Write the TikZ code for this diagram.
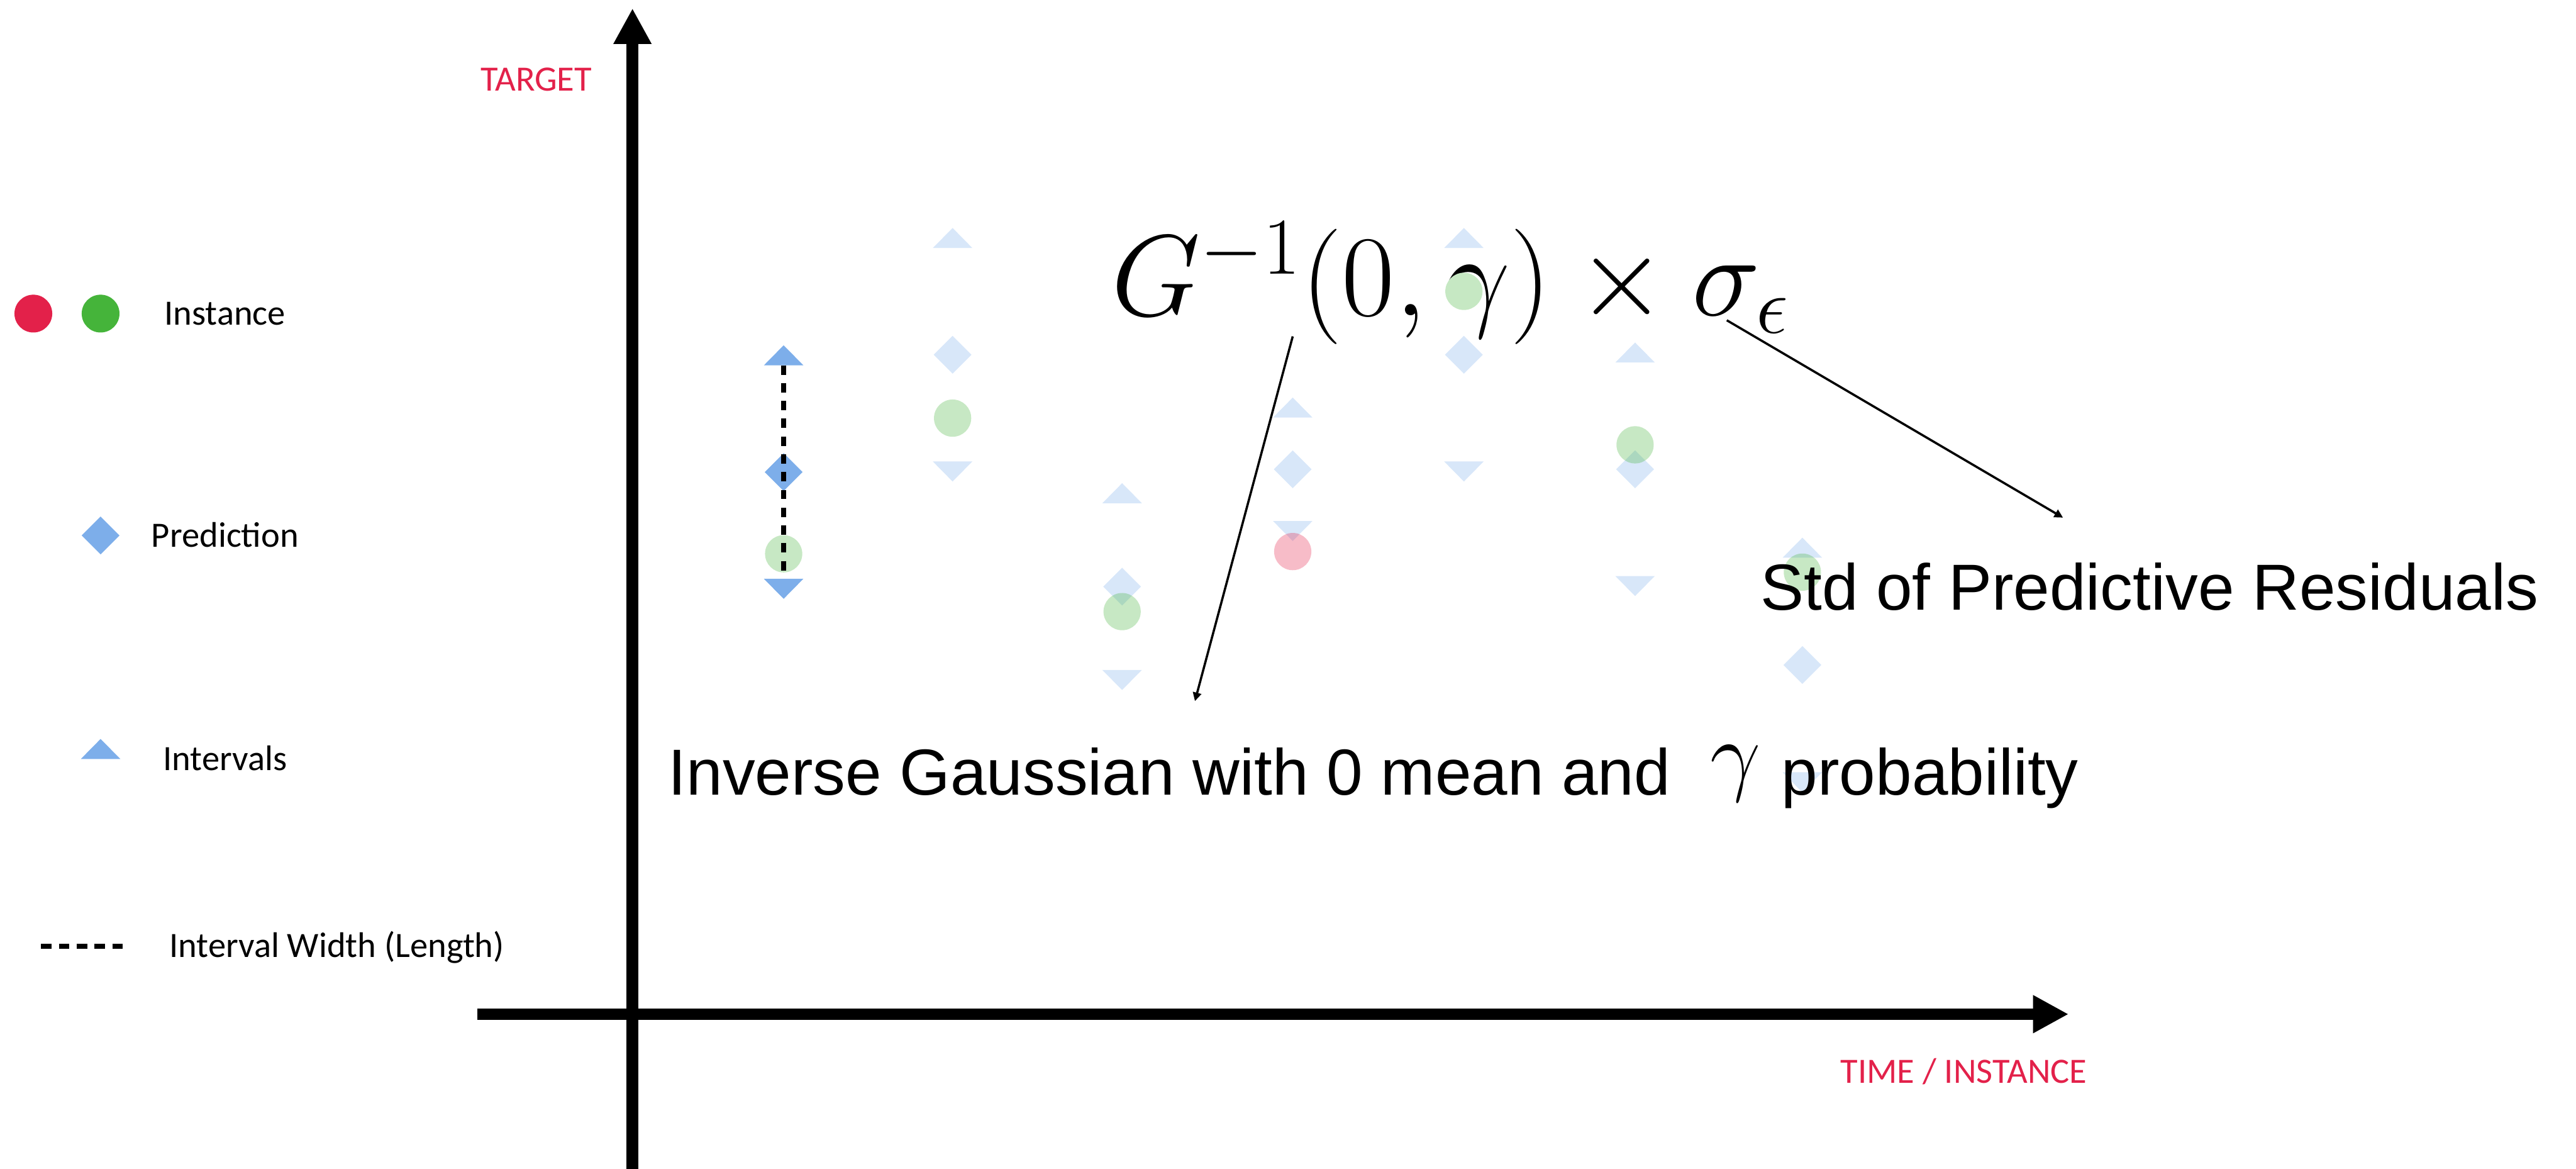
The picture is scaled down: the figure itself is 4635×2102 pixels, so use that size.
\documentclass[tikz,border=0pt]{standalone}
\usepackage{fix-cm}
\usepackage{fontspec}
\newfontfamily\keyfont{Carlito}
\newfontfamily\bigfont{Liberation Sans}
\usepackage{tikz}
\usetikzlibrary{arrows.meta}
\definecolor{InstRed}{HTML}{E3214A}
\definecolor{InstGreen}{HTML}{45B43A}
\definecolor{PredBlue}{HTML}{7DAEEA}
% markers: style, x, y
\newcommand{\triup}[3]{\fill[#1] (#2-35.5,#3) -- (#2,#3-36) -- (#2+35.5,#3) -- cycle;}
\newcommand{\tridown}[3]{\fill[#1] (#2-35.5,#3) -- (#2,#3+36) -- (#2+35.5,#3) -- cycle;}
\newcommand{\diam}[3]{\fill[#1] (#2-34,#3) -- (#2,#3-34) -- (#2+34,#3) -- (#2,#3+34) -- cycle;}
\newcommand{\instpt}[3]{\fill[#1] (#2,#3) circle[radius=33.5];}
\tikzset{
  axisline/.style={line width=5.98pt,-{Triangle[length=18.2pt,width=18.2pt]}},
  pointer/.style={line width=1.14pt,-{Triangle[length=4.4pt,width=4.3pt]}},
  widthline/.style={line width=2.3pt,dash pattern=on 4.8pt off 4.3pt},
  keytext/.style={font=\keyfont\fontsize{18.2}{22}\selectfont,anchor=base west,inner sep=0pt},
  bigtext/.style={font=\bigfont\fontsize{33.3}{40}\selectfont,anchor=base west,inner sep=0pt},
  soft/.style={fill=#1,fill opacity=0.3}
}

\begin{document}
\begin{tikzpicture}[x=0.01cm,y=-0.01cm]
  \useasboundingbox (0,0) rectangle (4635,2102);

  % axes
  \coordinate (yfoot) at (1138,2102);
  \coordinate (ytip) at (1138,15);
  \coordinate (xfoot) at (859,1824);
  \coordinate (xtip) at (3722,1824);
  \draw[axisline] (yfoot) -- (ytip);
  \draw[axisline] (xfoot) -- (xtip);
  \node[keytext,text=InstRed] (target) at (864,163) {TARGET};
  \node[keytext,text=InstRed] (timeinst) at (3311,1948) {TIME / INSTANCE};

  % legend
  \fill[InstRed] (60,564) circle[radius=34];
  \fill[InstGreen] (181,564) circle[radius=34];
  \diam{PredBlue}{181}{963}
  \triup{PredBlue}{181}{1365}
  \draw[widthline,line width=2.6pt,dash pattern=on 5.4pt off 3.7pt] (74,1702) -- (221,1702);
  \node[keytext] (kinst) at (295,584) {Instance};
  \node[keytext] (kpred) at (272,984) {Prediction};
  \node[keytext] (kint) at (293,1386) {Intervals};
  \node[keytext] (kwidth) at (304,1722) {Interval Width (Length)};

  % formula
  \node[anchor=base west,inner sep=0pt,font=\fontsize{59}{60}\selectfont] (gform) at (1999,568)
    {$G^{-1}(0,\gamma)\times\sigma_{\epsilon}$};

  % first instance, full colours
  \triup{PredBlue}{1410}{657}
  \diam{PredBlue}{1410}{849}
  \instpt{soft=InstGreen}{1410}{996}
  \tridown{PredBlue}{1410}{1041}
  \coordinate (hi1) at (1410,657);
  \coordinate (lo1) at (1410,1041);
  \draw[widthline] (hi1) -- (lo1);

  % other instances: x / prediction / half width
  \foreach \x/\d/\w in {1714/638/192, 2019/1055/150, 2326/844/93, 2634/638/192, 2942/844/192, 3243/1196/193}{
    \triup{soft=PredBlue}{\x}{\d-\w}
    \diam{soft=PredBlue}{\x}{\d}
    \tridown{soft=PredBlue}{\x}{\d+\w}
  }
  \foreach \x/\c in {1714/752, 2019/1100, 2942/800, 3243/1029}{
    \instpt{soft=InstGreen}{\x}{\c}
  }
  \instpt{soft=InstRed}{2326}{992}
  \fill[white] (2634,524) circle[radius=33.5];
  \instpt{soft=InstGreen}{2634}{524}

  % annotations
  \node[bigtext] (stdres) at (3167,1097) {Std of Predictive Residuals};
  \node[bigtext] (invgauss) at (1202,1430)
    {Inverse Gaussian with 0 mean and\hspace{20.5pt}\raisebox{5.7pt}{\fontsize{46}{46}\selectfont$\gamma$}\hspace{10.5pt}probability};
  \coordinate (gsrc) at (2326,605);
  \coordinate (gdst) at (2150,1261);
  \coordinate (ssrc) at (3107,576);
  \coordinate (sdst) at (3712,931);
  \draw[pointer] (gsrc) -- (gdst);
  \draw[pointer] (ssrc) -- (sdst);
\end{tikzpicture}
\end{document}
